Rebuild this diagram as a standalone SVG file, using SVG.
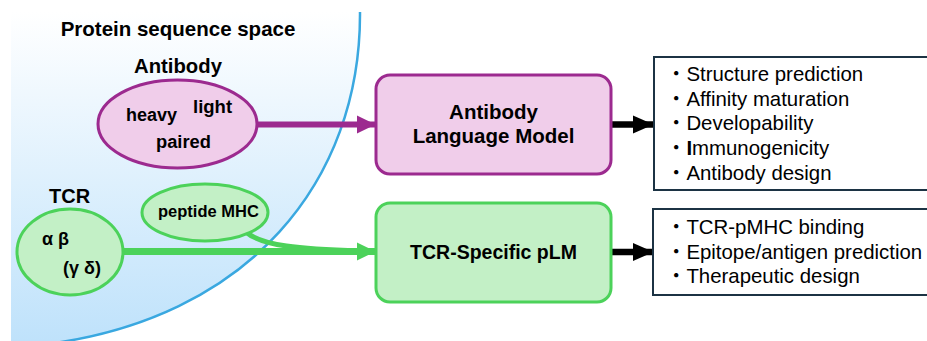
<svg xmlns="http://www.w3.org/2000/svg" width="927" height="341" viewBox="0 0 927 341">
<defs>
<linearGradient id="space" x1="0" y1="12" x2="0" y2="341" gradientUnits="userSpaceOnUse">
<stop offset="0" stop-color="#ffffff"/>
<stop offset="1" stop-color="#bfe2fb"/>
</linearGradient>
<marker id="ahP" markerUnits="userSpaceOnUse" markerWidth="19" markerHeight="19" viewBox="0 0 19 19" refX="18" refY="9.5" orient="auto"><path d="M0 0.5 L18.5 9.5 L0 18.5 Z" fill="#9c2a8f"/></marker>
<marker id="ahG" markerUnits="userSpaceOnUse" markerWidth="19" markerHeight="19" viewBox="0 0 19 19" refX="18" refY="9.5" orient="auto"><path d="M0 0.5 L18.5 9.5 L0 18.5 Z" fill="#4cd25a"/></marker>
<marker id="ahK" markerUnits="userSpaceOnUse" markerWidth="21" markerHeight="19" viewBox="0 0 21 19" refX="20" refY="9.5" orient="auto"><path d="M0 0.5 L20.5 9.5 L0 18.5 Z" fill="#000"/></marker>
</defs>
<style>
.b{font-family:"Liberation Sans",Arial,Helvetica,sans-serif;font-weight:bold;fill:#000}
.r{font-family:"Liberation Sans",Arial,"Noto Sans CJK JP",sans-serif;font-size:20.4px;fill:#000}
.pur{fill:#f0cdea;stroke:#9c2a8f;stroke-width:3}
.grn{fill:#c3f0c6;stroke:#4cd25a;stroke-width:3}
.list{fill:#ffffff;stroke:#1c3344;stroke-width:2}
</style>
<g id="sequence-space">
<path d="M11 12 L360 12 C361 180 250 320 40 345 L11 345 Z" fill="url(#space)"/>
<path d="M360 12 C361 180 250 320 40 345" fill="none" stroke="#3aa8e0" stroke-width="2.5"/>
<text class="b" x="178" y="36" font-size="20.5" text-anchor="middle">Protein sequence space</text>
</g>
<g id="connectors">
<line x1="257" y1="124.5" x2="375" y2="124.5" stroke="#9c2a8f" stroke-width="6" marker-end="url(#ahP)"/>
<path d="M246 232 C262 246 300 249 360 251" fill="none" stroke="#4cd25a" stroke-width="5"/>
<line x1="123" y1="251.5" x2="375" y2="251.5" stroke="#4cd25a" stroke-width="7" marker-end="url(#ahG)"/>
<line x1="612" y1="124.5" x2="653" y2="124.5" stroke="#000" stroke-width="6.5" marker-end="url(#ahK)"/>
<line x1="612" y1="252" x2="653" y2="252" stroke="#000" stroke-width="6.5" marker-end="url(#ahK)"/>
</g>
<g id="antibody">
<text class="b" x="178" y="73" font-size="20.3" text-anchor="middle">Antibody</text>
<ellipse class="pur" cx="177.5" cy="124" rx="79.5" ry="44"/>
<text class="b" x="126" y="121" font-size="18">heavy</text>
<text class="b" x="193" y="113" font-size="18.5">light</text>
<text class="b" x="156" y="148" font-size="18.3">paired</text>
</g>
<g id="tcr">
<text class="b" x="49" y="203" font-size="20">TCR</text>
<ellipse class="grn" cx="70" cy="252" rx="53" ry="43"/>
<text class="b" x="42" y="245" font-size="18">α β</text>
<text class="b" x="63" y="274" font-size="18">(γ δ)</text>
</g>
<g id="peptide-mhc">
<ellipse class="grn" cx="205" cy="212.5" rx="63" ry="28.5"/>
<text class="b" x="158" y="217" font-size="16.5">peptide MHC</text>
</g>
<g id="antibody-lm">
<rect class="pur" x="376" y="75" width="235" height="99" rx="14"/>
<text class="b" x="493.5" y="119" font-size="20.5" text-anchor="middle">Antibody</text>
<text class="b" x="493.5" y="143" font-size="20.5" text-anchor="middle">Language Model</text>
</g>
<g id="tcr-plm">
<rect class="grn" x="376" y="203" width="235" height="99" rx="14"/>
<text class="b" x="493.5" y="259" font-size="19.5" text-anchor="middle">TCR-Specific pLM</text>
</g>
<g id="antibody-apps">
<rect class="list" x="654" y="57" width="290" height="133"/>
<text class="r" x="666" y="81">・Structure prediction</text>
<text class="r" x="666" y="105.5">・Affinity maturation</text>
<text class="r" x="666" y="130">・Developability</text>
<text class="r" x="666" y="155">・<tspan font-weight="bold">I</tspan>mmunogenicity</text>
<text class="r" x="666" y="179.5">・Antibody design</text>
</g>
<g id="tcr-apps">
<rect class="list" x="653" y="209" width="290" height="86"/>
<text class="r" x="666" y="234">・TCR-pMHC binding</text>
<text class="r" x="666" y="258.5">・Epitope/antigen prediction</text>
<text class="r" x="666" y="283">・Therapeutic design</text>
</g>
</svg>
